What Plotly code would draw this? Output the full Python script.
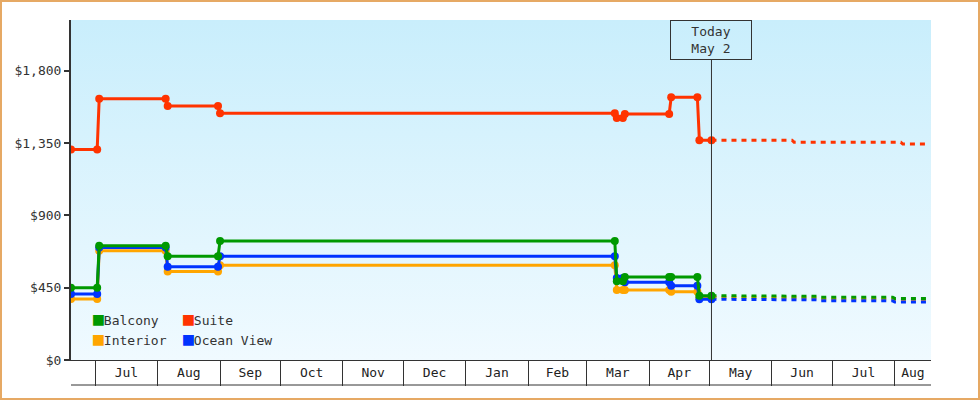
import pandas as pd
import plotly.graph_objects as go

# fares seen at each price check (USD)
DATES = ["2023-06-19", "2023-07-02", "2023-07-03", "2023-08-05", "2023-08-06",
         "2023-08-31", "2023-09-01", "2024-03-15", "2024-03-16", "2024-03-19",
         "2024-03-20", "2024-04-11", "2024-04-12", "2024-04-25", "2024-04-26",
         "2024-05-02"]
BALCONY = [450, 450, 710, 710, 645, 645, 740, 740, 490, 490, 517, 517, 517, 517, 400, 400]
SUITE = [1310, 1310, 1625, 1625, 1580, 1580, 1535, 1535, 1505, 1505, 1530, 1530,
         1635, 1635, 1367, 1367]
INTERIOR = [380, 380, 680, 680, 550, 550, 590, 590, 436, 436, 436, 436, 425, 425, 390, 390]
OCEAN_VIEW = [410, 410, 700, 700, 580, 580, 645, 645, 510, 510, 483, 483, 462, 462, 378, 378]

# projected fares after today
FORECAST_DATES = ["2024-05-02", "2024-05-20", "2024-05-21", "2024-06-11", "2024-06-12",
                  "2024-06-24", "2024-06-25", "2024-07-31", "2024-08-01", "2024-08-04",
                  "2024-08-05", "2024-08-17"]
BALCONY_FC = [400, 400, 396, 396, 396, 396, 390, 390, 383, 383, 383, 383]
SUITE_FC = [1367, 1367, 1367, 1367, 1355, 1355, 1355, 1355, 1355, 1355, 1343, 1343]
INTERIOR_FC = [390, 390, 386, 386, 386, 386, 380, 380, 373, 373, 373, 373]
OCEAN_VIEW_FC = [378, 378, 374, 374, 374, 374, 368, 368, 361, 361, 361, 361]

TODAY = "2024-05-02"
X_RANGE = ["2023-06-19", "2024-08-19"]
Y_RANGE = [0, 2115]
Y_TICKS = [0, 450, 900, 1350, 1800]
Y_TICK_TEXT = ["$0", "$450", "$900", "$1,350", "$1,800"]

FONT = "DejaVu Sans Mono"
INK = "#333333"
COLORS = {"Balcony": "#009900", "Suite": "#ff3300",
          "Interior": "#ffa500", "Ocean View": "#0033ff"}

W, H = 980, 400
ML, MR, MT, MB = 71, 49, 20, 40
PW, PH = W - ML - MR, H - MT - MB

# month labels sit in the middle of the visible part of each month
start, end = pd.Timestamp(X_RANGE[0]), pd.Timestamp(X_RANGE[1])
month_vals, month_text = [], []
for m in pd.date_range("2023-07-01", "2024-08-01", freq="MS"):
    a = max(m, start)
    b = min(m + pd.offsets.MonthBegin(1), end)
    month_vals.append(a + (b - a) / 2)
    month_text.append(m.strftime("%b"))

fig = go.Figure()

# gradient plot background
fig.add_trace(go.Scatter(
    x=[X_RANGE[0], X_RANGE[1], X_RANGE[1], X_RANGE[0], X_RANGE[0]],
    y=[Y_RANGE[0], Y_RANGE[0], Y_RANGE[1], Y_RANGE[1], Y_RANGE[0]],
    mode="lines", line=dict(width=0), fill="toself",
    fillgradient=dict(type="vertical",
                      colorscale=[[0, "#f0faff"], [1, "#c9eefc"]]),
    hoverinfo="skip", showlegend=False,
))

series = [("Interior", INTERIOR, INTERIOR_FC),
          ("Ocean View", OCEAN_VIEW, OCEAN_VIEW_FC),
          ("Balcony", BALCONY, BALCONY_FC),
          ("Suite", SUITE, SUITE_FC)]

for name, _, fc in series:
    fig.add_trace(go.Scatter(
        x=FORECAST_DATES, y=fc, mode="lines", name=name,
        line=dict(color=COLORS[name], width=3, dash="5px,5px"),
        showlegend=False,
    ))

for name, vals, _ in series:
    fig.add_trace(go.Scatter(
        x=DATES, y=vals, mode="lines+markers", name=name,
        line=dict(color=COLORS[name], width=3),
        marker=dict(symbol="circle", size=8, color=COLORS[name]),
        showlegend=False,
    ))

# legend: 2x2 grid, one small legend per cell, swatch drawn as a glyph
legend_cells = [("legend", "Balcony", 93, 320), ("legend2", "Suite", 183, 320),
                ("legend3", "Interior", 93, 340), ("legend4", "Ocean View", 183, 340)]
legends = {}
for lg, name, px, py in legend_cells:
    fig.add_trace(go.Scatter(
        x=[None], y=[None], mode="none", legend=lg,
        name=f"<span style='color:{COLORS[name]};font-size:18px'>■</span>{name}",
    ))
    legends[lg] = dict(x=(px - 40 - ML) / PW, y=(MT + PH - py) / PH,
                       orientation="h", xanchor="left", yanchor="middle",
                       bgcolor="rgba(0,0,0,0)", itemclick=False,
                       font=dict(family=FONT, size=13, color=INK))

fig.update_layout(
    width=W, height=H, autosize=False,
    margin=dict(l=ML, r=MR, t=MT, b=MB),
    paper_bgcolor="white",
    plot_bgcolor="#e0f6fe",
    font=dict(family=FONT, size=13, color=INK),
    xaxis=dict(
        type="date", range=X_RANGE,
        tickvals=month_vals, ticktext=month_text, ticks="",
        tickfont=dict(family=FONT, size=13, color="#222222"),
        minor=dict(ticks="outside", ticklen=25, tickwidth=1, tickcolor=INK,
                   dtick="M1", tick0="2023-07-01", showgrid=False),
        showline=True, linecolor=INK, linewidth=1,
        showgrid=False, zeroline=False,
    ),
    yaxis=dict(
        range=Y_RANGE, tickvals=Y_TICKS, ticktext=Y_TICK_TEXT,
        ticks="outside", ticklen=5, tickwidth=2, tickcolor=INK,
        tickfont=dict(family=FONT, size=13, color=INK),
        showline=True, linecolor=INK, linewidth=2,
        showgrid=False, zeroline=False,
    ),
    showlegend=True,
    **legends,
)

# today marker
fig.add_shape(type="line", xref="x", yref="paper", x0=TODAY, x1=TODAY,
              y0=0, y1=(MT + PH - 60) / PH, line=dict(color=INK, width=1))
fig.add_annotation(x=TODAY, xref="x", y=1, yref="paper", yanchor="top",
                   text="Today<br>May 2", showarrow=False,
                   width=74, height=32, borderpad=3,
                   bordercolor=INK, borderwidth=1,
                   font=dict(family=FONT, size=13, color=INK))

# bottom rule of the month boxes
fig.add_shape(type="line", xref="paper", yref="paper", x0=0, x1=1,
              y0=-25 / PH, y1=-25 / PH, line=dict(color=INK, width=1))

# outer frame
fig.add_shape(type="rect", xref="paper", yref="paper",
              x0=(1 - ML) / PW, x1=(W - 1 - ML) / PW,
              y0=(PH + MT - (H - 1)) / PH, y1=(PH + MT - 1) / PH,
              line=dict(color="#e6a964", width=2))

fig.write_html("out.html", config={"displayModeBar": False},
               post_script="document.body.style.margin = '0';")
